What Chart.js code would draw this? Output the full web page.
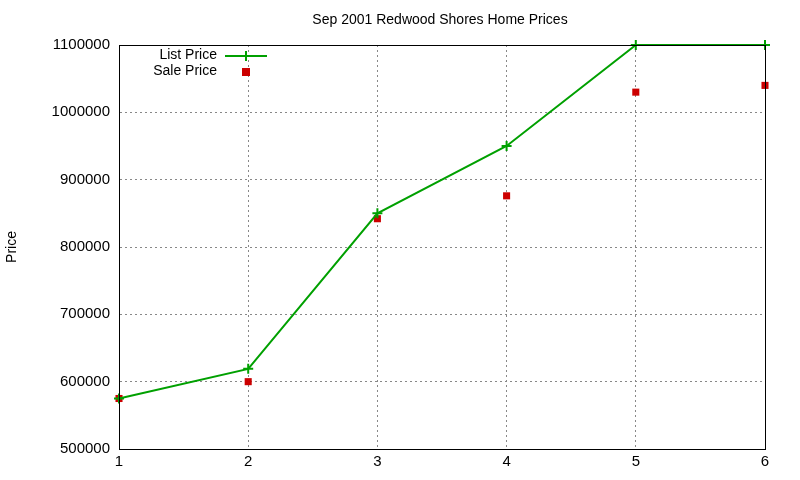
<!DOCTYPE html>
<html><head><meta charset="utf-8">
<script src="https://cdn.jsdelivr.net/npm/chart.js@4"></script>
<style>html,body{margin:0;padding:0;background:#fff}#c{display:block}</style>
</head><body>
<div style="width:800px;height:480px"><canvas id="c" width="800" height="480"></canvas></div>
<script>
const xValues = [1, 2, 3, 4, 5, 6];
const listPrice = [575000, 619000, 850000, 950000, 1100000, 1100000];
const salePrice = [575000, 600000, 842000, 876000, 1030000, 1040000];
const FONT = '"Liberation Sans", Arial, sans-serif';
const overlay = {
  id: 'overlay',
  afterDraw(chart) {
    const ctx = chart.ctx, a = chart.chartArea;
    ctx.save();
    ctx.strokeStyle = '#000'; ctx.lineWidth = 1;
    ctx.strokeRect(a.left + 0.5, a.top + 0.5, a.right - a.left, a.bottom - a.top);
    ctx.fillStyle = '#000';
    ctx.font = '14px ' + FONT;
    ctx.textAlign = 'center'; ctx.textBaseline = 'middle';
    ctx.fillText('Sep 2001 Redwood Shores Home Prices', 440, 20);
    ctx.save(); ctx.translate(12, 247); ctx.rotate(-Math.PI / 2);
    ctx.fillText('Price', 0, 0); ctx.restore();
    ctx.textAlign = 'right';
    ctx.fillText('List Price', 217, 55);
    ctx.fillText('Sale Price', 217, 71);
    ctx.strokeStyle = '#00a000'; ctx.lineWidth = 2;
    ctx.beginPath(); ctx.moveTo(225, 56); ctx.lineTo(267, 56);
    ctx.moveTo(246, 51); ctx.lineTo(246, 61); ctx.stroke();
    ctx.fillStyle = '#cc0000'; ctx.fillRect(242, 68, 8, 8);
    ctx.restore();
  }
};
new Chart(document.getElementById('c'), {
  type: 'line',
  data: { datasets: [
    { data: xValues.map((x, i) => ({ x, y: listPrice[i] })), borderColor: '#00a000', backgroundColor: '#00a000',
      borderWidth: 2, pointStyle: 'cross', pointRadius: 5, pointBorderWidth: 2, tension: 0, clip: false },
    { data: xValues.map((x, i) => ({ x, y: salePrice[i] })), showLine: false, borderColor: '#cc0000', backgroundColor: '#cc0000',
      pointStyle: 'rect', pointRadius: 5, pointBorderWidth: 0, clip: false }
  ]},
  options: {
    responsive: false, animation: false,
    layout: { padding: { top: 45, right: 35, left: 0, bottom: 0 } },
    plugins: { legend: { display: false }, title: { display: false }, tooltip: { enabled: false } },
    scales: {
      x: { type: 'linear', min: 1, max: 6,
        ticks: { stepSize: 1, color: '#000', font: { family: FONT, size: 15 }, padding: 4 },
        grid: { color: '#888', drawTicks: false },
        border: { display: true, dash: [2, 3], color: '#000' },
        afterFit(s) { s.height = 31; } },
      y: { min: 500000, max: 1100000,
        ticks: { stepSize: 100000, color: '#000', font: { family: FONT, size: 15 }, padding: 9,
          callback: v => String(v) },
        grid: { color: '#888', drawTicks: false },
        border: { display: true, dash: [2, 3], color: '#000' },
        afterFit(s) { s.width = 119; } }
    }
  },
  plugins: [overlay]
});
</script>
</body></html>
